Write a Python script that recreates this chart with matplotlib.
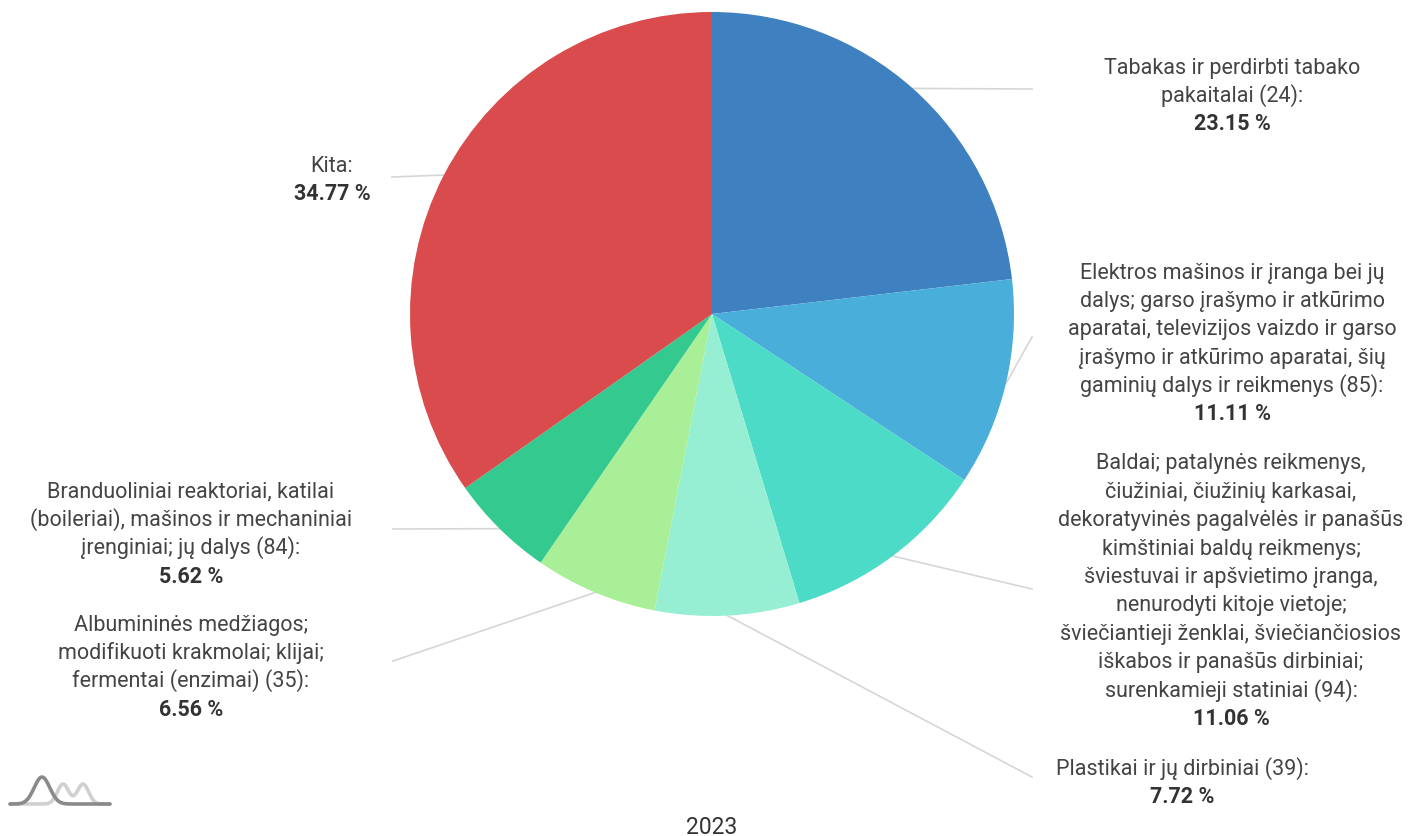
import numpy as np
import matplotlib.pyplot as plt

plt.rcParams['font.family'] = ['Roboto', 'DejaVu Sans']

labels = [
    ["Tabakas ir perdirbti tabako", "pakaitalai (24):"],
    ["Elektros mašinos ir įranga bei jų", "dalys; garso įrašymo ir atkūrimo",
     "aparatai, televizijos vaizdo ir garso", "įrašymo ir atkūrimo aparatai, šių",
     "gaminių dalys ir reikmenys (85):"],
    ["Baldai; patalynės reikmenys,", "čiužiniai, čiužinių karkasai,",
     "dekoratyvinės pagalvėlės ir panašūs", "kimštiniai baldų reikmenys;",
     "šviestuvai ir apšvietimo įranga,", "nenurodyti kitoje vietoje;",
     "šviečiantieji ženklai, šviečiančiosios", "iškabos ir panašūs dirbiniai;",
     "surenkamieji statiniai (94):"],
    ["Plastikai ir jų dirbiniai (39):"],
    ["Albumininės medžiagos;", "modifikuoti krakmolai; klijai;",
     "fermentai (enzimai) (35):"],
    ["Branduoliniai reaktoriai, katilai", "(boileriai), mašinos ir mechaniniai",
     "įrenginiai; jų dalys (84):"],
    ["Kita:"],
]
shares = [23.15, 11.11, 11.06, 7.72, 6.56, 5.62, 34.77]
colors = ["#3f80c1", "#49aeda", "#4cdbc7", "#97efd3", "#a9ef97", "#33c98f", "#d94b4c"]
year = "2023"

# label layout: (line end x, line end y, text centre x, first line centre y)
layout = [
    (1032, 90, 1232, 66),
    (1032, 338, 1232, 271),
    (1032, 590, 1231, 462),
    (1032, 778, 1182, 767),
    (393, 662, 191, 623),
    (393, 530, 191, 490),
    (392, 178, 332, 164),
]

W, H = 1410, 837
fig = plt.figure(figsize=(W / 100, H / 100), dpi=100)
ax = fig.add_axes([0, 0, 1, 1])

wedges, _ = ax.pie(shares, colors=colors, startangle=-90, counterclock=True,
                   center=(712, 315), radius=302, frame=True,
                   wedgeprops=dict(linewidth=0))
ax.set_xlim(0, W)
ax.set_ylim(H, 0)
ax.set_aspect('equal')
ax.axis('off')

fs = 15.5
lh = 28.4
for w, lines, val, (ex, ey, tx, ty) in zip(wedges, labels, shares, layout):
    a = np.deg2rad((w.theta1 + w.theta2) / 2)
    sx = w.center[0] + w.r * np.cos(a)
    sy = w.center[1] + w.r * np.sin(a)
    ax.plot([sx, ex], [sy, ey], color="#d6d6d6", lw=1.2, zorder=0)
    for i, line in enumerate(lines):
        ax.text(tx, ty + i * lh + 7.5, line, ha='center', va='baseline',
                fontsize=fs, color="#444444")
    ax.text(tx, ty + len(lines) * lh + 7.5, f"{val:.2f} %", ha='center',
            va='baseline', fontsize=fs, fontweight='bold', color="#333333")

ax.text(712, 834, year, ha='center', va='baseline', fontsize=16.5, color="#333333")

# small logo bottom-left
xs = np.linspace(0, 1, 200)
g1 = np.exp(-((xs - 0.32) / 0.11) ** 2)
g2 = 0.74 * np.exp(-((xs - 0.53) / 0.08) ** 2) + 0.74 * np.exp(-((xs - 0.73) / 0.08) ** 2)
ax.plot(10 + xs * 100, 805 - 27 * g2, color="#d0d0d0", lw=2.6, solid_capstyle='round')
ax.plot(10 + xs * 100, 805 - 27 * g1, color="#8a8a8a", lw=2.6, solid_capstyle='round')

fig.savefig("out.png", dpi=100)
